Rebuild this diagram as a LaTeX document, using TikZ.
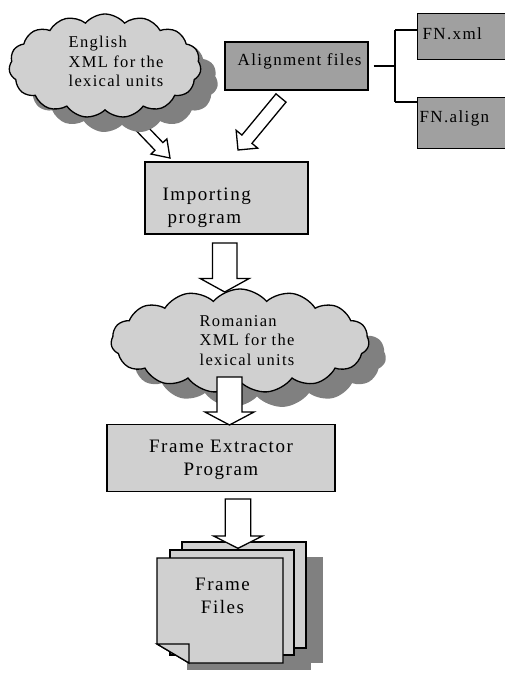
\documentclass[tikz,border=0pt]{standalone}
\usepackage{fontspec}
\setmainfont{Liberation Serif}
\newfontfamily\lsfont[LetterSpace=8]{Liberation Serif}
\usetikzlibrary{shapes.symbols,calc}
\definecolor{lgray}{HTML}{D0D0D0}
\definecolor{dgray}{HTML}{A0A0A0}
\definecolor{sgray}{HTML}{808080}
% block arrow: tail, tip, half shaft width, half head width, head length
\newcommand\blockarr[5]{%
  \path ($(#2)!#5!(#1)$) coordinate (bah);
  \draw[barrow] ($(#1)!#3!90:(#2)$) -- ($(bah)!#3!90:(#2)$) -- ($(bah)!#4!90:(#2)$)
    -- (#2) -- ($(bah)!#4!-90:(#2)$) -- ($(bah)!#3!-90:(#2)$) -- ($(#1)!#3!-90:(#2)$) -- cycle;}
\begin{document}
\begin{tikzpicture}[x=1pt,y=-1pt,line width=1.3pt,
  barrow/.style={draw=black,fill=white,line width=1.3pt,line join=miter},
  lbox/.style={draw=black,fill=lgray,inner sep=0},
  dbox/.style={draw=black,fill=dgray,inner sep=0},
  cloudsh/.style={cloud,cloud puffs=15,cloud puff arc=100,cloud ignores aspect,inner sep=0,fill=sgray},
  cloudfg/.style={cloud,cloud puffs=15,cloud puff arc=100,cloud ignores aspect,inner sep=0,draw=black,fill=lgray},
  bigtxt/.style={font=\lsfont\fontsize{19}{23}\selectfont,inner sep=0},
  midtxt/.style={font=\lsfont\fontsize{17}{20}\selectfont,inner sep=0},
  smtxt/.style={font=\lsfont\fontsize{16.5}{19.5}\selectfont,inner sep=0},
  conn/.style={draw=black,line width=1.3pt}]
\useasboundingbox (0,0) rectangle (505,674);

% arrow from English cloud (tail hidden under the cloud)
\coordinate (a1t) at (125,111);
\coordinate (a1h) at (170,158);
\blockarr{a1t}{a1h}{5.5pt}{11pt}{16pt}

% English cloud
\node[cloudsh,minimum width=192,minimum height=104] (engsh) at (122,81) {};
\node[cloudfg,minimum width=192,minimum height=104] (eng) at (105,66) {};
\node[smtxt,anchor=base west,align=left] (tEng) at (68,87) {English\\XML for the\\lexical units};

% Alignment files and FrameNet files
\node[dbox,minimum width=143,minimum height=48] (al) at (296.5,66) {};
\node[midtxt,anchor=base west] (tAl) at (237,66) {Alignment files};
\node[dbox,minimum width=110,minimum height=46,anchor=north west] (fnx) at (417,13) {};
\node[midtxt,anchor=base west] (tFx) at (422,40) {FN.xml};
\node[dbox,minimum width=110,minimum height=51,anchor=north west] (fna) at (417,97) {};
\node[midtxt,anchor=base west] (tFa) at (419,122) {FN.align};
\coordinate (jn) at (395,66);
\coordinate (bx) at (395,30);
\coordinate (ba) at (395,102);
\draw[conn] ([xshift=5pt]al.east) -- (jn);
\draw[conn] (bx) -- (ba);
\draw[conn] (bx) -- (fnx.west |- bx);
\draw[conn] (ba) -- (fna.west |- ba);

% arrow from Alignment files
\coordinate (a2t) at (281,98);
\coordinate (a2h) at (238,150);
\blockarr{a2t}{a2h}{6.5pt}{14pt}{14pt}

% Importing program
\node[lbox,minimum width=163,minimum height=72] (imp) at (226.5,198) {};
\node[bigtxt,anchor=base west,align=left] (tImp) at (162,223) {Importing\\\hspace*{5pt}program};

% Romanian cloud
\node[cloudsh,minimum width=258,minimum height=104] (romsh) at (257,356) {};
\node[cloudfg,minimum width=258,minimum height=104] (rom) at (240,341) {};
\node[smtxt,anchor=base west,align=left] (tRom) at (199,365) {Romanian\\XML for the\\lexical units};

% arrow Importing -> Romanian
\coordinate (a3t) at (224.7,243);
\coordinate (a3h) at (224.7,292);
\blockarr{a3t}{a3h}{12.25pt}{24.5pt}{13.5pt}

% Frame Extractor Program
\node[lbox,minimum width=228,minimum height=67] (fe) at (221,458) {};
\node[bigtxt,anchor=base,align=center] (tFE) at (221,475) {Frame Extractor\\Program};

% arrow Romanian -> Frame Extractor
\coordinate (a4t) at (229.5,377);
\coordinate (a4h) at (229.5,425);
\blockarr{a4t}{a4h}{12.5pt}{24.5pt}{13pt}

% Frame Files (multi-document)
\fill[sgray] (199,557) rectangle (323,663);
\fill[sgray] (187,565) rectangle (311,670);
\draw[fill=lgray] (182,542) rectangle (306,648);
\draw[fill=lgray] (170,550) rectangle (294,655);
\draw[fill=lgray,line join=miter] (157,558) -- (283,558) -- (283,663) -- (189,663) -- (157,644) -- cycle;
\draw[fill=lgray,line join=miter] (157,644) -- (189,644) -- (189,663) -- cycle;
\node[bigtxt,anchor=base,align=center] (tFF) at (222.5,613) {Frame\\Files};

% arrow Frame Extractor -> Frame Files
\coordinate (a5t) at (238,499);
\coordinate (a5h) at (238,548.3);
\blockarr{a5t}{a5h}{12.8pt}{24.4pt}{12.3pt}
\end{tikzpicture}
\end{document}
